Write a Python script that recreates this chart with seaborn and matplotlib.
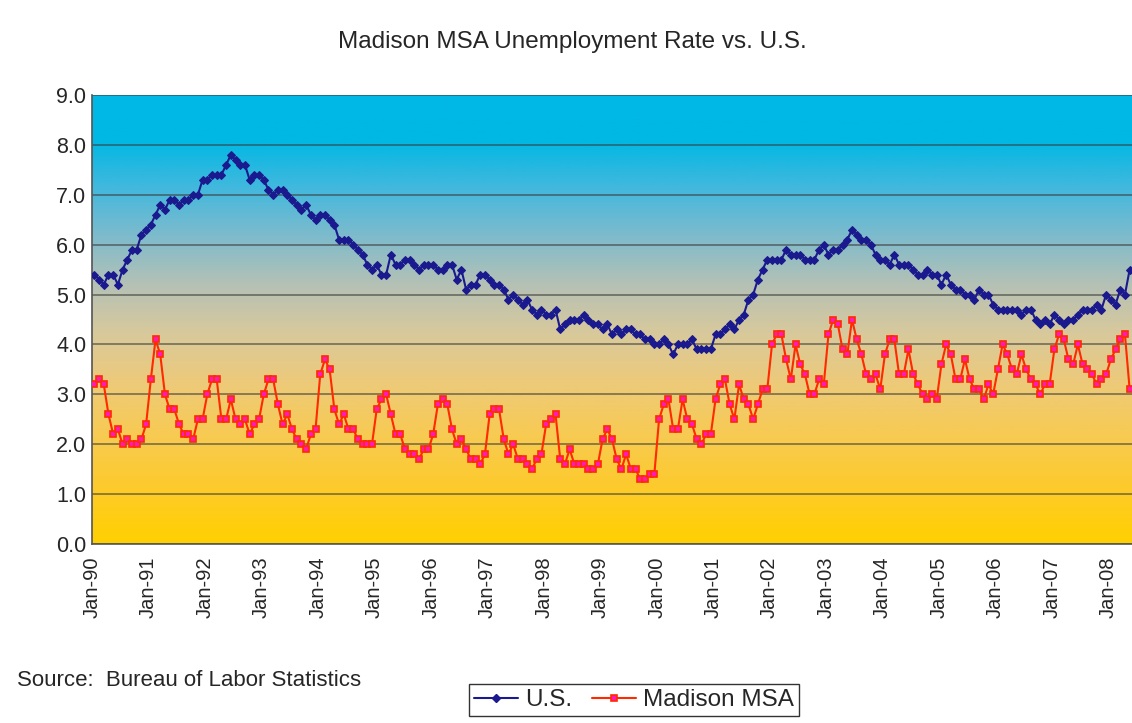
import numpy as np
import pandas as pd
import matplotlib
matplotlib.use("Agg")
import matplotlib.pyplot as plt
from matplotlib.colors import LinearSegmentedColormap
from matplotlib.lines import Line2D
import seaborn as sns

# Monthly unemployment rate, Jan 1990 - May 2008
us_rate = [
    5.4, 5.3, 5.2, 5.4, 5.4, 5.2, 5.5, 5.7, 5.9, 5.9, 6.2, 6.3,  # 1990
    6.4, 6.6, 6.8, 6.7, 6.9, 6.9, 6.8, 6.9, 6.9, 7.0, 7.0, 7.3,  # 1991
    7.3, 7.4, 7.4, 7.4, 7.6, 7.8, 7.7, 7.6, 7.6, 7.3, 7.4, 7.4,  # 1992
    7.3, 7.1, 7.0, 7.1, 7.1, 7.0, 6.9, 6.8, 6.7, 6.8, 6.6, 6.5,  # 1993
    6.6, 6.6, 6.5, 6.4, 6.1, 6.1, 6.1, 6.0, 5.9, 5.8, 5.6, 5.5,  # 1994
    5.6, 5.4, 5.4, 5.8, 5.6, 5.6, 5.7, 5.7, 5.6, 5.5, 5.6, 5.6,  # 1995
    5.6, 5.5, 5.5, 5.6, 5.6, 5.3, 5.5, 5.1, 5.2, 5.2, 5.4, 5.4,  # 1996
    5.3, 5.2, 5.2, 5.1, 4.9, 5.0, 4.9, 4.8, 4.9, 4.7, 4.6, 4.7,  # 1997
    4.6, 4.6, 4.7, 4.3, 4.4, 4.5, 4.5, 4.5, 4.6, 4.5, 4.4, 4.4,  # 1998
    4.3, 4.4, 4.2, 4.3, 4.2, 4.3, 4.3, 4.2, 4.2, 4.1, 4.1, 4.0,  # 1999
    4.0, 4.1, 4.0, 3.8, 4.0, 4.0, 4.0, 4.1, 3.9, 3.9, 3.9, 3.9,  # 2000
    4.2, 4.2, 4.3, 4.4, 4.3, 4.5, 4.6, 4.9, 5.0, 5.3, 5.5, 5.7,  # 2001
    5.7, 5.7, 5.7, 5.9, 5.8, 5.8, 5.8, 5.7, 5.7, 5.7, 5.9, 6.0,  # 2002
    5.8, 5.9, 5.9, 6.0, 6.1, 6.3, 6.2, 6.1, 6.1, 6.0, 5.8, 5.7,  # 2003
    5.7, 5.6, 5.8, 5.6, 5.6, 5.6, 5.5, 5.4, 5.4, 5.5, 5.4, 5.4,  # 2004
    5.2, 5.4, 5.2, 5.1, 5.1, 5.0, 5.0, 4.9, 5.1, 5.0, 5.0, 4.8,  # 2005
    4.7, 4.7, 4.7, 4.7, 4.7, 4.6, 4.7, 4.7, 4.5, 4.4, 4.5, 4.4,  # 2006
    4.6, 4.5, 4.4, 4.5, 4.5, 4.6, 4.7, 4.7, 4.7, 4.8, 4.7, 5.0,  # 2007
    4.9, 4.8, 5.1, 5.0, 5.5,                                     # 2008
]

madison_rate = [
    3.2, 3.3, 3.2, 2.6, 2.2, 2.3, 2.0, 2.1, 2.0, 2.0, 2.1, 2.4,  # 1990
    3.3, 4.1, 3.8, 3.0, 2.7, 2.7, 2.4, 2.2, 2.2, 2.1, 2.5, 2.5,  # 1991
    3.0, 3.3, 3.3, 2.5, 2.5, 2.9, 2.5, 2.4, 2.5, 2.2, 2.4, 2.5,  # 1992
    3.0, 3.3, 3.3, 2.8, 2.4, 2.6, 2.3, 2.1, 2.0, 1.9, 2.2, 2.3,  # 1993
    3.4, 3.7, 3.5, 2.7, 2.4, 2.6, 2.3, 2.3, 2.1, 2.0, 2.0, 2.0,  # 1994
    2.7, 2.9, 3.0, 2.6, 2.2, 2.2, 1.9, 1.8, 1.8, 1.7, 1.9, 1.9,  # 1995
    2.2, 2.8, 2.9, 2.8, 2.3, 2.0, 2.1, 1.9, 1.7, 1.7, 1.6, 1.8,  # 1996
    2.6, 2.7, 2.7, 2.1, 1.8, 2.0, 1.7, 1.7, 1.6, 1.5, 1.7, 1.8,  # 1997
    2.4, 2.5, 2.6, 1.7, 1.6, 1.9, 1.6, 1.6, 1.6, 1.5, 1.5, 1.6,  # 1998
    2.1, 2.3, 2.1, 1.7, 1.5, 1.8, 1.5, 1.5, 1.3, 1.3, 1.4, 1.4,  # 1999
    2.5, 2.8, 2.9, 2.3, 2.3, 2.9, 2.5, 2.4, 2.1, 2.0, 2.2, 2.2,  # 2000
    2.9, 3.2, 3.3, 2.8, 2.5, 3.2, 2.9, 2.8, 2.5, 2.8, 3.1, 3.1,  # 2001
    4.0, 4.2, 4.2, 3.7, 3.3, 4.0, 3.6, 3.4, 3.0, 3.0, 3.3, 3.2,  # 2002
    4.2, 4.5, 4.4, 3.9, 3.8, 4.5, 4.1, 3.8, 3.4, 3.3, 3.4, 3.1,  # 2003
    3.8, 4.1, 4.1, 3.4, 3.4, 3.9, 3.4, 3.2, 3.0, 2.9, 3.0, 2.9,  # 2004
    3.6, 4.0, 3.8, 3.3, 3.3, 3.7, 3.3, 3.1, 3.1, 2.9, 3.2, 3.0,  # 2005
    3.5, 4.0, 3.8, 3.5, 3.4, 3.8, 3.5, 3.3, 3.2, 3.0, 3.2, 3.2,  # 2006
    3.9, 4.2, 4.1, 3.7, 3.6, 4.0, 3.6, 3.5, 3.4, 3.2, 3.3, 3.4,  # 2007
    3.7, 3.9, 4.1, 4.2, 3.1,                                     # 2008
]

year_labels = ["Jan-%02d" % (y % 100) for y in range(1990, 2009)]
y_ticks = [0, 1, 2, 3, 4, 5, 6, 7, 8, 9]

n = len(us_rate)
month_pos = np.arange(n) + 0.5

df = pd.DataFrame({
    "month": np.concatenate([month_pos, month_pos]),
    "rate": us_rate + madison_rate,
    "series": ["U.S."] * n + ["Madison MSA"] * n,
})

sns.set_style("white")
plt.rcParams["font.family"] = ["Liberation Sans", "DejaVu Sans"]

W, H = 1132, 723
fig = plt.figure(figsize=(W / 100, H / 100), dpi=100)
ax = fig.add_axes([92 / W, 1 - 544 / H, 1040 / W, 449 / H])

# cyan-to-gold background gradient of the plot area
bg = LinearSegmentedColormap.from_list("bg", [
    (0.00, "#FFD000"),
    (0.12, "#FDCB2A"),
    (0.25, "#F7CA55"),
    (0.36, "#EDCA7A"),
    (0.47, "#D8C99C"),
    (0.58, "#B4C1B6"),
    (0.69, "#7CBBCD"),
    (0.80, "#3FB8DE"),
    (0.90, "#00B8E4"),
    (1.00, "#00B8E6"),
])
grad = np.linspace(0, 1, 256).reshape(-1, 1)
ax.imshow(grad, aspect="auto", cmap=bg, origin="lower",
          extent=(0, n, 0, 9), zorder=0)

us_df = df[df["series"] == "U.S."]
ms_df = df[df["series"] == "Madison MSA"]

sns.lineplot(data=us_df, x="month", y="rate", ax=ax, color="#1A1A8E",
             linewidth=1.5, marker="D", markersize=4,
             markerfacecolor="#1A1A8E", markeredgecolor="#1A1A8E", zorder=3)
sns.lineplot(data=ms_df, x="month", y="rate", ax=ax, color="#FF2A00",
             linewidth=1.5, marker="s", markersize=4.5,
             markerfacecolor="#FF1AB0", markeredgecolor="#FF2A00",
             markeredgewidth=1.2, zorder=4)

ax.set_xlim(0, n)
ax.set_ylim(0, 9)
ax.set_yticks(y_ticks)
ax.set_yticklabels(["%.1f" % v for v in y_ticks], fontsize=15.5)
ax.set_xticks(np.arange(len(year_labels)) * 12)
ax.set_xticklabels(year_labels, rotation=90, fontsize=14.5)
ax.set_xlabel("")
ax.set_ylabel("")

ax.set_axisbelow(True)
ax.yaxis.grid(True, color="#3A3A3A", alpha=0.6, linewidth=1.3)
ax.xaxis.grid(False)
ax.tick_params(axis="x", direction="out", length=6, width=1, color="#444444", pad=3)
ax.tick_params(axis="y", direction="out", length=0, pad=4)
for side in ["top", "right"]:
    ax.spines[side].set_visible(False)
for side in ["left", "bottom"]:
    ax.spines[side].set_color("#555555")
    ax.spines[side].set_linewidth(1.2)

fig.text(572 / W, 1 - 42 / H, "Madison MSA Unemployment Rate vs. U.S.",
         ha="center", va="center", fontsize=17.5)
fig.text(17 / W, 1 - 680 / H, "Source:  Bureau of Labor Statistics",
         ha="left", va="center", fontsize=16)

handles = [
    Line2D([], [], color="#1A1A8E", linewidth=1.5, marker="D", markersize=4),
    Line2D([], [], color="#FF2A00", linewidth=1.5, marker="s", markersize=4.5,
           markerfacecolor="#FF1AB0", markeredgecolor="#FF2A00", markeredgewidth=1.2),
]
leg = fig.legend(handles, ["U.S.", "Madison MSA"], loc="center",
                 bbox_to_anchor=(634 / W, 1 - 700 / H), ncol=2, fontsize=17.5,
                 frameon=True, fancybox=False, edgecolor="black",
                 handlelength=1.8, handletextpad=0.3, columnspacing=0.8,
                 borderpad=0.2, borderaxespad=0)
leg.get_frame().set_linewidth(1.0)

fig.savefig("out.png", dpi=100)
